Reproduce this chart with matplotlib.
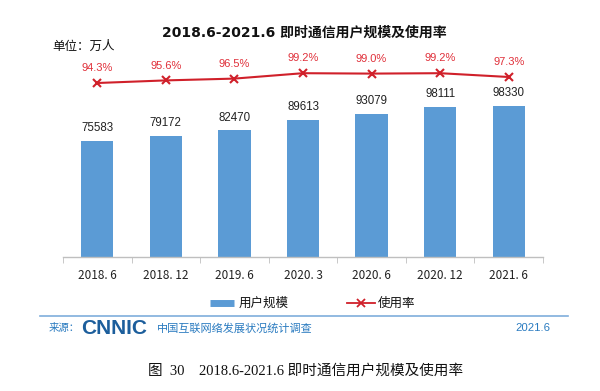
import matplotlib
matplotlib.use("Agg")
import matplotlib.pyplot as plt
from matplotlib.lines import Line2D
import numpy as np

categories = ["2018. 6", "2018. 12", "2019. 6", "2020. 3", "2020. 6", "2020. 12", "2021. 6"]
users = [75583, 79172, 82470, 89613, 93079, 98111, 98330]
rate = [94.3, 95.6, 96.5, 99.2, 99.0, 99.2, 97.3]

CJK = ['Noto Sans CJK SC', 'DejaVu Sans']
plt.rcParams['font.family'] = CJK

W, H = 600, 391
fig = plt.figure(figsize=(W / 100, H / 100), dpi=100)
fig.patch.set_facecolor("white")

def fx(px):
    return px / W

def fy(py):
    return 1 - py / H

ax_left, ax_right, ax_top, ax_bot = 63, 543, 60, 256.7
ax = fig.add_axes([fx(ax_left), fy(ax_bot), fx(ax_right - ax_left), (ax_bot - ax_top) / H])
ax.patch.set_alpha(0)
x = np.arange(len(categories))
bar_color = "#5B9BD5"
ax.bar(x, users, width=0.47, color=bar_color, zorder=2)
ax.set_xlim(-0.5, len(categories) - 0.5)
ax.set_ylim(0, 128500)
for s in ["top", "left", "right"]:
    ax.spines[s].set_visible(False)
ax.spines["bottom"].set_color("#bfbfbf")
ax.spines["bottom"].set_linewidth(1.0)
ax.set_yticks([])
ax.set_xticks(x)
ax.set_xticklabels(categories, fontsize=8.5, color="#222222")
ax.tick_params(axis="x", which="major", length=0, pad=9)
ax.set_xticks(np.arange(-0.5, len(categories)), minor=True)
ax.tick_params(axis="x", which="minor", length=4, color="#bfbfbf", direction="out")
for xi, v in zip(x, users):
    ax.annotate(f"{v}", (xi, v), xytext=(0, 5), textcoords="offset points",
                ha="center", va="bottom", fontsize=8.3, color="#222222",
                family="Liberation Sans")

ax2 = ax.twinx()
ax2.patch.set_alpha(0)
ax2.set_ylim(7.45, 7.45 + (ax_bot - ax_top) / 2)
ax2.set_yticks([])
for s in ["top", "left", "right", "bottom"]:
    ax2.spines[s].set_visible(False)
line_color = "#D0202A"
ax2.plot(x, rate, color=line_color, linewidth=1.5, marker="x", markersize=6,
         markeredgewidth=1.5, zorder=3)
for xi, v in zip(x, rate):
    ax2.annotate(f"{v:.1f}%", (xi, v), xytext=(0, 7), textcoords="offset points",
                 ha="center", va="bottom", fontsize=8, color="#E0303A",
                 family="Liberation Sans")

# title and unit
fig.text(fx(304), fy(32), "2018.6-2021.6 即时通信用户规模及使用率", ha="center", va="center",
         fontsize=10, fontweight="bold", color="#111111",
         family=['DejaVu Sans', 'Noto Sans CJK SC'])
fig.text(fx(52), fy(46), "单位：万人", ha="left", va="center", fontsize=9, color="#111111")

# legend
leg_y = 303
fig.add_artist(Line2D([fx(210), fx(234)], [fy(leg_y), fy(leg_y)], color=bar_color,
                      linewidth=5, solid_capstyle="butt", transform=fig.transFigure))
fig.text(fx(239), fy(leg_y), "用户规模", ha="left", va="center", fontsize=9, color="#111111")
fig.add_artist(Line2D([fx(347), fx(375)], [fy(leg_y), fy(leg_y)], color=line_color,
                      linewidth=1.3, transform=fig.transFigure))
fig.add_artist(Line2D([fx(361)], [fy(leg_y)], color=line_color, marker="x", markersize=6,
                      markeredgewidth=1.3, linestyle="none", transform=fig.transFigure))
fig.text(fx(378), fy(leg_y), "使用率", ha="left", va="center", fontsize=9, color="#111111")

# footer
fig.add_artist(Line2D([fx(40), fx(568)], [fy(316), fy(316)], color="#7FAEDC",
                      linewidth=1.2, transform=fig.transFigure))
foot_color = "#2A7BC0"
fig.text(fx(49), fy(328), "来源：", ha="left", va="center", fontsize=7.5, color=foot_color)
fig.text(fx(81), fy(328), "CNNIC", ha="left", va="center", fontsize=15, fontweight="bold",
         color="#1C5E9C", family="Liberation Sans")
fig.text(fx(157), fy(328), "中国互联网络发展状况统计调查", ha="left", va="center",
         fontsize=8, color=foot_color)
fig.text(fx(550), fy(328), "2021.6", ha="right", va="center", fontsize=8.2,
         color=foot_color, family="Liberation Sans")

# caption
fig.text(fx(306), fy(371), "图  30    2018.6-2021.6 即时通信用户规模及使用率", ha="center",
         va="center", fontsize=10.5, color="#111111",
         family=['Liberation Serif', 'Noto Sans CJK SC'])

fig.savefig("out.png", dpi=100, facecolor="white")
